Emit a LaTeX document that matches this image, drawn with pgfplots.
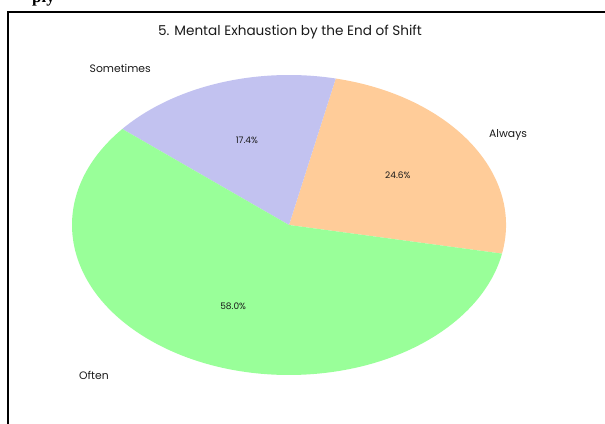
\documentclass[border=0pt]{standalone}
\usepackage{fontspec}
\setmainfont{Poppins}
\newfontfamily\serifbold{Liberation Serif}
\usepackage{pgfplots}
\usepackage{pgfplotstable}
\pgfplotsset{compat=1.18}
\definecolor{cAlways}{HTML}{FFCC99}
\definecolor{cSometimes}{HTML}{C2C2F0}
\definecolor{cOften}{HTML}{99FF99}
\definecolor{txt}{HTML}{1A1A1A}
% category, share (%), outer label position (px from left, px from top)
\pgfplotstableread{
label pct lx ly
Always 24.6 489 135
Sometimes 17.4 151 68
Often 58.0 79 375
}\piedata
\begin{document}
\begin{tikzpicture}
\path[use as bounding box] (0,0) rectangle (605bp,424bp);
\begin{axis}[
  at={(0,0)}, anchor=south west,
  scale only axis, width=605bp, height=424bp,
  xmin=0, xmax=605, ymin=0, ymax=424,
  hide axis, clip=true,
]
\def\startang{-11.0}
\pgfplotsinvokeforeach{0,1,2}{%
  \pgfplotstablegetelem{#1}{label}\of\piedata \let\lab\pgfplotsretval
  \pgfplotstablegetelem{#1}{lx}\of\piedata \let\lx\pgfplotsretval
  \pgfplotstablegetelem{#1}{ly}\of\piedata \pgfmathsetmacro\ly{424-\pgfplotsretval}
  \pgfplotstablegetelem{#1}{pct}\of\piedata \let\pc\pgfplotsretval
  \pgfmathsetmacro\sa{\startang}
  \pgfmathsetmacro\ea{\startang+3.6*\pc}
  \pgfmathsetmacro\ma{(\sa+\ea)/2}
  \ifnum#1=0 \def\anc{west}\else\ifnum#1=1 \def\anc{east}\else\def\anc{west}\fi\fi
  \edef\temp{%
    \noexpand\fill[fill=c\lab] (axis cs:289,199) -- ++(\sa:217bp and 150bp)
      arc[start angle=\sa, end angle=\ea, x radius=217bp, y radius=150bp] -- cycle;
    \noexpand\path (axis cs:289,199) ++(\ma:130.2bp and 90bp)
      node[font=\noexpand\fontsize{9bp}{10bp}\noexpand\selectfont, text=txt] {\pc\noexpand\%};
    \noexpand\node[anchor=\anc, inner sep=0pt, font=\noexpand\fontsize{10.8bp}{12bp}\noexpand\selectfont, text=txt]
      at (axis cs:\lx,\ly) {\lab};
  }%
  \temp
  \xdef\startang{\ea}%
}
\node[font=\fontsize{13.6bp}{15bp}\selectfont, text=txt] at (axis cs:290,392)
  {5. Mental Exhaustion by the End of Shift};
\draw[line width=2bp, black] (axis cs:605,412) -- (axis cs:8,412) -- (axis cs:8,0);
\node[anchor=base west, inner sep=0pt, font=\serifbold\bfseries\fontsize{17bp}{20bp}\selectfont]
  at (axis cs:32,421) {ply};
\end{axis}
\end{tikzpicture}
\end{document}
